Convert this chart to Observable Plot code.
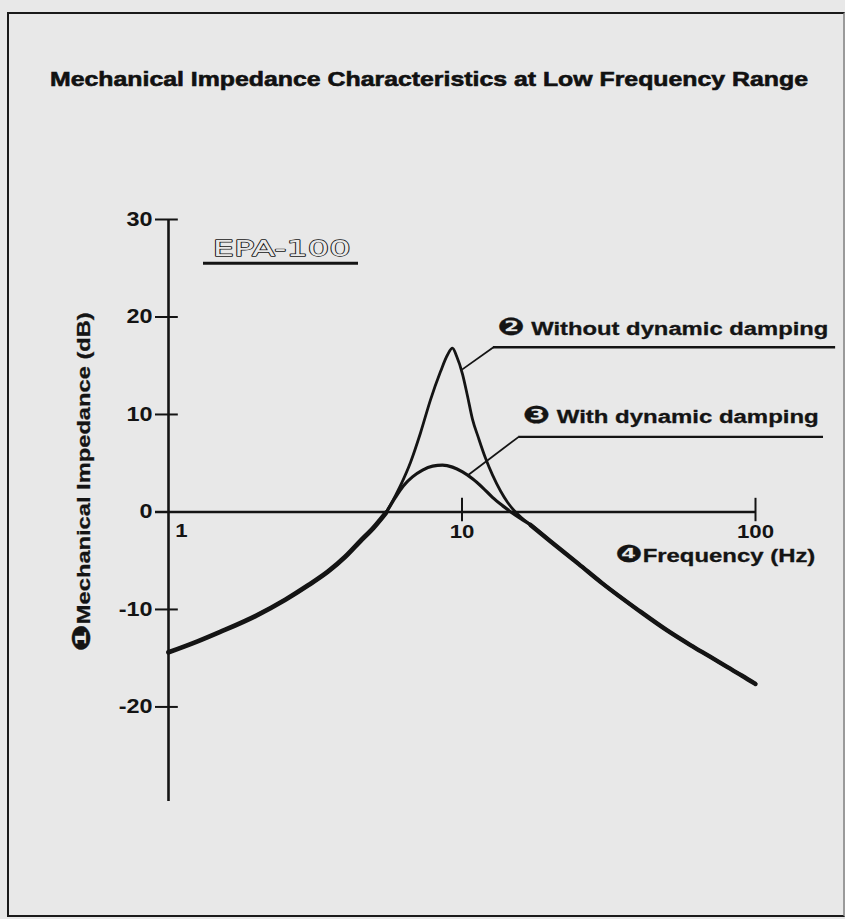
<!DOCTYPE html>
<html>
<head>
<meta charset="utf-8">
<script src="https://cdn.jsdelivr.net/npm/d3@7"></script>
<script src="https://cdn.jsdelivr.net/npm/@observablehq/plot@0.6"></script>
<style>
  html, body { margin: 0; padding: 0; background: #e8e8e8; }
  #page { position: relative; width: 845px; height: 919px; overflow: hidden; background: #e8e8e8; }
  #frame { position: absolute; left: 7px; top: 12px; width: 834px; height: 901px; border: 2px solid #1a1a1a; border-right-color: #9a9a9a; }
  #title { position: absolute; left: 50px; top: 69px; font: bold 20.5px "Liberation Sans", Arial, sans-serif; line-height: 1; white-space: nowrap; color: #111; -webkit-text-stroke: 0.6px #111; transform-origin: 0 0; }
  #chart { position: absolute; left: 0; top: 0; }
</style>
</head>
<body>
<div id="page">
  <div id="frame"></div>
  <div id="title">Mechanical Impedance Characteristics at Low Frequency Range</div>
  <div id="chart"></div>
</div>
<script>
// ---- data ----
const seriesNames = ["Without dynamic damping", "With dynamic damping"];

// shared low-frequency part (both curves coincide)
const freqLow = [1, 1.25, 1.5, 2, 2.5, 3, 3.5, 4, 4.5, 5, 5.5];
const dBLow   = [-14.4, -13.3, -12.3, -10.6, -9.0, -7.5, -6.1, -4.6, -3.0, -1.6, -0.1];

// resonance region, without dynamic damping
const freqWithout = [5.7, 6.17, 6.68, 7.22, 7.81, 8.45, 8.92, 9.28, 9.58, 10.04, 10.44, 10.86, 11.38, 12.03, 12.7, 13.53, 14.29, 15.1, 16.08];
const dBWithout   = [0.7, 2.7, 5.1, 8.1, 11.5, 14.4, 16.1, 16.8, 16.0, 14.15, 11.9, 9.5, 7.6, 5.5, 3.8, 2.15, 1.0, 0.1, -0.67];

// resonance region, with dynamic damping
const freqWith = [5.93, 6.32, 6.78, 7.34, 7.94, 8.58, 9.28, 10.04, 10.86, 11.75, 12.7, 13.74, 14.75, 15.82];
const dBWith   = [1.5, 2.7, 3.6, 4.3, 4.7, 4.8, 4.6, 4.1, 3.4, 2.5, 1.5, 0.65, -0.05, -0.67];

// shared high-frequency part
const freqHigh = [17.12, 20, 25, 30, 40, 50, 60, 70, 80, 90, 100];
const dBHigh   = [-1.33, -3.0, -5.35, -7.3, -10.1, -12.15, -13.65, -14.85, -15.9, -16.8, -17.65];

// axes
const yTicks = [30, 20, 10, -10, -20];
const yTickValues = [30, 20, 10, 0, -10, -20];
const yTickLabels = ["30", "20", "10", "0", "-10", "-20"];
const xTickValues = [10, 100];
const xTickLabels = ["10", "100"];
const xFirstLabel = "1";

// text labels
const yLabel = "❶Mechanical Impedance (dB)";
const xLabel = "❹Frequency (Hz)";
const labelWithout = "❷ Without dynamic damping";
const labelWith = "❸ With dynamic damping";
const modelName = "EPA-100";

// ---- tables ----
const pts = (fs, vs) => fs.map((f, i) => ({f, dB: vs[i]}));
const low = pts(freqLow, dBLow);
const high = pts(freqHigh, dBHigh);
const rows = [
  ...[...low, ...pts(freqWithout, dBWithout), ...high].map(d => ({...d, series: seriesNames[0]})),
  ...[...low, ...pts(freqWith, dBWith), ...high].map(d => ({...d, series: seriesNames[1]}))
];

// ---- layout config (annotation anchors in data space) ----
const ink = "#141414";
const axisExtent = {yBottom: -29.7, yTop: 30, xLeft: 0.903, xRight: 100, tickL: 0.903, tickR: 1.08, tickUp: 1.4, tickDown: -1.0};
const ann = {
  without: {f: 13.2, dB: 18.7, lineY: 16.9, lineX1: 12.8, lineX2: 187.5, leadF: 10.0, leadDB: 14.6},
  with:    {f: 16.1, dB: 9.7,  lineY: 7.7,  lineX1: 15.6, lineX2: 170.5, leadF: 10.5, leadDB: 3.8},
  model:   {f: 2.43, dB: 26.9, lineY: 25.5, lineX1: 1.316, lineX2: 4.44},
  xlab:    {f: 33.3, dB: -4.5},
  ylab:    {f: 0.513, dB: 3.1}
};
const fitWidths = new Map([
  [labelWithout, 331], [labelWith, 296], [xLabel, 200], [yLabel, 339], [modelName, 138]
]);
const tickStretch = 1.17;
const labelFont = "Liberation Sans, Arial, sans-serif";
const curve = "monotone-x";

const svg = Plot.plot({
  width: 845,
  height: 919,
  marginLeft: 168,
  marginRight: 90,
  marginTop: 219,
  marginBottom: 118,
  x: {type: "log", domain: [1, 100], axis: null},
  y: {domain: [axisExtent.yBottom, axisExtent.yTop], axis: null},
  style: {background: "transparent", overflow: "visible"},
  marks: [
    // axes
    Plot.ruleX([1], {y1: axisExtent.yBottom, y2: axisExtent.yTop, stroke: ink, strokeWidth: 2.6}),
    Plot.ruleY([0], {x1: axisExtent.xLeft, x2: axisExtent.xRight, stroke: ink, strokeWidth: 2.6}),
    Plot.ruleY(yTicks, {y: d => d, x1: axisExtent.tickL, x2: axisExtent.tickR, stroke: ink, strokeWidth: 2}),
    Plot.ruleX(xTickValues, {x: d => d, y1: axisExtent.tickUp, y2: axisExtent.tickDown, stroke: ink, strokeWidth: 2}),
    Plot.text(yTickValues, {x: 1, y: d => d, text: (d, i) => yTickLabels[i], textAnchor: "end", dx: -16, fontSize: 20, fontWeight: "bold", fontFamily: labelFont, fill: ink}),
    Plot.text(xTickValues, {x: d => d, y: 0, text: (d, i) => xTickLabels[i], dy: 20, fontSize: 19, fontWeight: "bold", fontFamily: labelFont, fill: ink}),
    Plot.text([1], {x: d => d, y: 0, text: () => xFirstLabel, dx: 13, dy: 19, fontSize: 19, fontWeight: "bold", fontFamily: labelFont, fill: ink}),

    // curves
    Plot.line(rows.filter(d => d.series === seriesNames[0]), {x: "f", y: "dB", stroke: ink, strokeWidth: 2.8, curve}),
    Plot.line(rows.filter(d => d.series === seriesNames[1]), {x: "f", y: "dB", stroke: ink, strokeWidth: 3.2, curve}),
    Plot.line(low, {x: "f", y: "dB", stroke: ink, strokeWidth: 4.8, curve, strokeLinecap: "round"}),
    Plot.line(high, {x: "f", y: "dB", stroke: ink, strokeWidth: 4.4, curve, strokeLinecap: "round"}),

    // annotation: without damping
    Plot.link([ann.without], {x1: "leadF", y1: "leadDB", x2: "lineX1", y2: "lineY", stroke: ink, strokeWidth: 1.8}),
    Plot.ruleY([ann.without], {y: "lineY", x1: "lineX1", x2: "lineX2", stroke: ink, strokeWidth: 2.4}),
    Plot.text([ann.without], {x: "f", y: "dB", text: () => labelWithout, textAnchor: "start", fontSize: 18, fontWeight: "bold", fontFamily: labelFont, fill: ink, stroke: ink, strokeWidth: 0.3}),

    // annotation: with damping
    Plot.link([ann.with], {x1: "leadF", y1: "leadDB", x2: "lineX1", y2: "lineY", stroke: ink, strokeWidth: 1.8}),
    Plot.ruleY([ann.with], {y: "lineY", x1: "lineX1", x2: "lineX2", stroke: ink, strokeWidth: 2.4}),
    Plot.text([ann.with], {x: "f", y: "dB", text: () => labelWith, textAnchor: "start", fontSize: 18, fontWeight: "bold", fontFamily: labelFont, fill: ink, stroke: ink, strokeWidth: 0.3}),

    // model name
    Plot.text([ann.model], {x: "f", y: "dB", text: () => modelName, fontSize: 21, fontFamily: "DejaVu Sans, sans-serif", fill: "#e8e8e8", stroke: ink, strokeWidth: 1.3}),
    Plot.ruleY([ann.model], {y: "lineY", x1: "lineX1", x2: "lineX2", stroke: ink, strokeWidth: 3}),

    // axis labels
    Plot.text([ann.xlab], {x: "f", y: "dB", text: () => xLabel, textAnchor: "start", fontSize: 18, fontWeight: "bold", fontFamily: labelFont, fill: ink, stroke: ink, strokeWidth: 0.3}),
    Plot.text([ann.ylab], {x: "f", y: "dB", text: () => yLabel, rotate: -90, fontSize: 19, fontWeight: "bold", fontFamily: labelFont, fill: ink, stroke: ink, strokeWidth: 0.3})
  ]
});

document.getElementById("chart").append(svg);

// horizontal stretch of the scanned lettering; enlarge the circled numerals
const circled = "❶❷❸❹";
svg.querySelectorAll("text").forEach(t => {
  const content = t.textContent;
  const target = fitWidths.get(content);
  if (circled.includes(content[0])) {
    t.textContent = "";
    const ns = "http://www.w3.org/2000/svg";
    const a = document.createElementNS(ns, "tspan");
    a.setAttribute("font-family", "DejaVu Sans, sans-serif");
    a.setAttribute("font-size", "1.35em");
    a.textContent = content[0];
    const b = document.createElementNS(ns, "tspan");
    b.textContent = content.slice(1);
    t.append(a, b);
  }
  const w = target ?? t.getComputedTextLength() * tickStretch;
  t.setAttribute("textLength", w);
  t.setAttribute("lengthAdjust", "spacingAndGlyphs");
});
const title = document.getElementById("title");
const tw = title.getBoundingClientRect().width;
title.style.transform = `scaleX(${758 / tw})`;
</script>
</body>
</html>
